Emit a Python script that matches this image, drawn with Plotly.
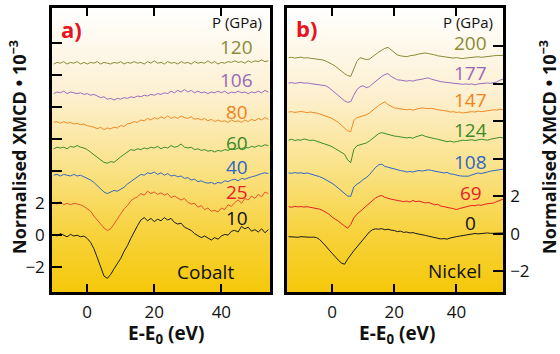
import plotly.graph_objects as go

# ---------------- data ----------------
energy_co = list(range(-10, 55))   # eV, Cobalt panel
energy_ni = list(range(-14, 56))   # eV, Nickel panel

co_10 = [0.05, -0.05, 0.1, 0.0, -0.1, 0.05, -0.05, 0.0, -0.1, -0.05,
         -0.2, -0.45, -0.85, -1.4, -2.0, -2.55, -2.7, -2.45, -2.1, -1.75,
         -1.45, -1.0, -0.65, -0.2, 0.25, 0.6, 0.95, 1.1, 0.9, 1.05,
         0.85, 1.0, 0.9, 1.1, 0.95, 1.05, 0.8, 0.7, 0.75, 0.5,
         0.4, 0.3, 0.1, 0.0, -0.15, -0.05, -0.2, -0.3, -0.15, -0.25,
         -0.05, 0.05, 0.0, 0.25, 0.3, 0.2, 0.55, 0.4, 0.5, 0.25,
         0.35, 0.2, 0.4, 0.15, 0.35]
co_25 = [2.05, 1.95, 2.1, 1.9, 2.0, 1.9, 2.0, 1.95, 1.9, 1.8,
         1.65, 1.5, 1.2, 0.95, 0.7, 0.45, 0.3, 0.4, 0.7, 1.0,
         1.35, 1.65, 1.85, 2.15, 2.3, 2.4, 2.6, 2.5, 2.75, 2.6,
         2.7, 2.55, 2.65, 2.5, 2.6, 2.35, 2.45, 2.3, 2.2, 2.3,
         2.05, 1.95, 2.0, 1.75, 1.85, 1.6, 1.7, 1.5, 1.55, 1.45,
         1.7, 1.6, 1.9, 1.8, 2.05, 2.2, 2.0, 2.3, 2.2, 2.45,
         2.3, 2.55, 2.4, 2.7, 2.6]
co_40 = [3.75, 3.8, 3.7, 3.8, 3.75, 3.7, 3.8, 3.7, 3.75, 3.65,
         3.6, 3.45, 3.3, 3.1, 2.9, 2.7, 2.6, 2.7, 2.8, 2.75,
         2.85, 3.0, 3.2, 3.35, 3.5, 3.65, 3.8, 3.75, 3.9, 3.85,
         3.95, 3.8, 3.9, 3.75, 3.85, 3.7, 3.75, 3.65, 3.7, 3.55,
         3.6, 3.45, 3.5, 3.35, 3.4, 3.3, 3.25, 3.3, 3.2, 3.3,
         3.25, 3.4, 3.35, 3.45, 3.5, 3.4, 3.55, 3.5, 3.6, 3.65,
         3.7, 3.8, 3.85, 3.9, 3.85]
co_60 = [5.4, 5.5, 5.45, 5.5, 5.4, 5.55, 5.5, 5.6, 5.5, 5.45,
         5.35, 5.2, 5.0, 4.85, 4.7, 4.55, 4.5, 4.6, 4.55, 4.75,
         4.9, 5.05, 5.2, 5.35, 5.3, 5.4, 5.35, 5.45, 5.4, 5.5,
         5.45, 5.55, 5.4, 5.5, 5.45, 5.6, 5.5, 5.55, 5.7, 5.5,
         5.45, 5.5, 5.35, 5.4, 5.3, 5.35, 5.25, 5.3, 5.2, 5.3,
         5.25, 5.35, 5.3, 5.4, 5.35, 5.45, 5.4, 5.5, 5.45, 5.55,
         5.5, 5.6, 5.55, 5.65, 5.6]
co_80 = [7.05, 7.1, 7.0, 7.1, 7.0, 7.05, 6.95, 7.0, 6.9, 6.95,
         6.85, 6.8, 6.75, 6.65, 6.75, 6.6, 6.7, 6.65, 6.75, 6.7,
         6.85, 6.8, 6.95, 7.0, 7.1, 7.05, 7.2, 7.15, 7.3, 7.2,
         7.35, 7.25, 7.4, 7.3, 7.45, 7.3, 7.4, 7.3, 7.45, 7.35,
         7.3, 7.4, 7.25, 7.3, 7.2, 7.3, 7.15, 7.25, 7.1, 7.2,
         7.1, 7.15, 7.05, 7.2, 7.1, 7.15, 7.05, 7.2, 7.1, 7.25,
         7.15, 7.3, 7.2, 7.35, 7.25]
co_106 = [8.85, 8.95, 8.9, 9.0, 8.85, 8.95, 8.9, 8.85, 8.9, 8.8,
          8.85, 8.75, 8.8, 8.7, 8.6, 8.65, 8.5, 8.55, 8.45, 8.55,
          8.5, 8.6, 8.55, 8.65, 8.6, 8.7, 8.65, 8.75, 8.7, 8.8,
          8.75, 8.85, 8.8, 8.9, 8.85, 9.0, 8.9, 9.05, 8.95, 9.1,
          8.95, 9.05, 8.9, 9.0, 8.9, 8.95, 8.85, 8.95, 8.9, 9.0,
          8.9, 9.0, 8.85, 8.95, 8.9, 9.0, 8.9, 8.95, 8.85, 8.95,
          8.9, 9.0, 8.9, 9.05, 8.95]
co_120 = [10.7, 10.8, 10.75, 10.85, 10.7, 10.8, 10.75, 10.85, 10.7, 10.8,
          10.7, 10.8, 10.75, 10.85, 10.7, 10.8, 10.75, 10.7, 10.8, 10.75,
          10.85, 10.7, 10.8, 10.75, 10.85, 10.75, 10.8, 10.7, 10.85, 10.75,
          10.9, 10.75, 10.8, 10.7, 10.85, 10.75, 10.8, 10.7, 10.85, 10.75,
          10.8, 10.7, 10.85, 10.75, 10.8, 10.75, 10.9, 10.75, 10.85, 10.7,
          10.8, 10.75, 10.85, 10.8, 10.9, 10.8, 10.85, 10.75, 10.9, 10.8,
          10.9, 10.85, 10.95, 10.85, 10.9]

ni_0 = [-0.15, -0.17, -0.16, -0.18, -0.15, -0.17, -0.16, -0.18, -0.17, -0.2,
        -0.3, -0.45, -0.65, -0.85, -1.05, -1.25, -1.4, -1.55, -1.62, -1.35,
        -1.1, -0.9, -0.7, -0.5, -0.35, -0.1, 0.1, 0.22, 0.27, 0.25,
        0.28, 0.22, 0.25, 0.2, 0.18, 0.12, 0.15, 0.08, 0.1, 0.05,
        0.07, 0.02, 0.0, -0.05, -0.08, -0.12, -0.15, -0.2, -0.22, -0.27,
        -0.25, -0.28, -0.22, -0.2, -0.15, -0.12, -0.1, -0.05, -0.02, 0.0,
        0.02, 0.0, 0.03, 0.02, 0.05, 0.03, 0.04, 0.06, 0.05, 0.05]
ni_69 = [1.45, 1.42, 1.47, 1.44, 1.46, 1.43, 1.45, 1.42, 1.4, 1.38,
         1.32, 1.25, 1.15, 1.05, 0.9, 0.8, 0.68, 0.55, 0.42, 0.3,
         0.5, 0.85, 1.05, 1.2, 1.35, 1.5, 1.65, 1.8, 1.92, 2.0,
         2.05, 1.95, 1.88, 1.85, 1.82, 1.78, 1.75, 1.72, 1.75, 1.7,
         1.78, 1.72, 1.75, 1.7, 1.65, 1.68, 1.6, 1.55, 1.58, 1.48,
         1.45, 1.4, 1.38, 1.35, 1.3, 1.35, 1.38, 1.42, 1.48, 1.52,
         1.5, 1.55, 1.52, 1.58, 1.6, 1.62, 1.65, 1.72, 1.8, 1.85]
ni_108 = [3.25, 3.23, 3.27, 3.24, 3.26, 3.22, 3.25, 3.2, 3.18, 3.12,
          3.05, 2.98, 2.9, 2.8, 2.7, 2.58, 2.45, 2.3, 2.15, 2.02,
          2.0, 2.5, 2.65, 2.75, 2.9, 3.0, 3.15, 3.35, 3.55, 3.68,
          3.72, 3.6, 3.55, 3.5, 3.48, 3.42, 3.38, 3.35, 3.3, 3.33,
          3.3, 3.35, 3.38, 3.35, 3.4, 3.42, 3.38, 3.35, 3.3, 3.28,
          3.25, 3.28, 3.2, 3.18, 3.12, 3.1, 3.08, 3.1, 3.08, 3.15,
          3.2, 3.25, 3.22, 3.28, 3.3, 3.35, 3.38, 3.4, 3.42, 3.45]
ni_124 = [5.0, 5.05, 4.98, 5.02, 5.0, 5.06, 5.02, 4.98, 5.0, 4.95,
          4.9, 4.85, 4.8, 4.72, 4.65, 4.55, 4.45, 4.35, 4.25, 3.95,
          3.8, 4.5, 4.7, 4.75, 4.8, 4.85, 4.95, 5.1, 5.25, 5.35,
          5.4, 5.35, 5.3, 5.25, 5.22, 5.2, 5.18, 5.15, 5.12, 5.15,
          5.1, 5.18, 5.22, 5.28, 5.2, 5.15, 5.12, 5.08, 5.05, 5.0,
          4.95, 4.92, 4.95, 4.9, 4.92, 4.95, 5.0, 4.98, 5.0, 5.02,
          4.98, 5.0, 5.05, 5.02, 5.0, 5.05, 5.08, 5.1, 5.15, 5.12]
ni_147 = [6.5, 6.52, 6.48, 6.5, 6.53, 6.5, 6.47, 6.5, 6.48, 6.45,
          6.4, 6.35, 6.3, 6.22, 6.15, 6.05, 5.95, 5.8, 5.65, 5.5,
          5.45, 6.05, 6.2, 6.25, 6.3, 6.35, 6.45, 6.6, 6.75, 6.85,
          6.95, 7.05, 6.9, 6.8, 6.72, 6.7, 6.68, 6.65, 6.62, 6.65,
          6.6, 6.65, 6.7, 6.72, 6.7, 6.68, 6.7, 6.65, 6.62, 6.6,
          6.58, 6.55, 6.5, 6.52, 6.48, 6.5, 6.45, 6.48, 6.5, 6.52,
          6.5, 6.55, 6.52, 6.55, 6.58, 6.6, 6.62, 6.6, 6.65, 6.62]
ni_177 = [8.05, 8.07, 8.03, 8.05, 8.08, 8.04, 8.05, 8.02, 8.0, 7.98,
          7.95, 7.95, 7.9, 7.8, 7.65, 7.5, 7.35, 7.2, 7.1, 7.02,
          7.05, 7.4, 7.7, 7.85, 7.9, 7.8, 7.85, 8.0, 8.15, 8.3,
          8.4, 8.5, 8.55, 8.4, 8.3, 8.22, 8.2, 8.18, 8.15, 8.18,
          8.15, 8.2, 8.22, 8.25, 8.3, 8.32, 8.25, 8.2, 8.15, 8.12,
          8.1, 8.08, 8.05, 8.02, 8.0, 8.02, 7.98, 8.0, 7.98, 8.0,
          7.95, 8.0, 8.02, 8.0, 8.05, 8.03, 8.05, 8.1, 8.2, 8.25]
ni_200 = [9.4, 9.42, 9.38, 9.4, 9.43, 9.38, 9.4, 9.37, 9.35, 9.32,
          9.3, 9.28, 9.22, 9.15, 9.05, 8.95, 8.8, 8.65, 8.55, 8.45,
          8.4, 8.8, 9.2, 9.4, 9.35, 9.3, 9.32, 9.45, 9.6, 9.7,
          9.8, 9.9, 9.95, 9.8, 9.65, 9.55, 9.5, 9.48, 9.45, 9.5,
          9.52, 9.55, 9.6, 9.62, 9.65, 9.62, 9.6, 9.55, 9.5, 9.48,
          9.45, 9.42, 9.4, 9.38, 9.4, 9.38, 9.35, 9.38, 9.4, 9.42,
          9.4, 9.45, 9.42, 9.45, 9.48, 9.5, 9.5, 9.52, 9.5, 9.52]

co_series = [co_10, co_25, co_40, co_60, co_80, co_106, co_120]
co_pressures = ["10", "25", "40", "60", "80", "106", "120"]
co_line_colors = ["#1a1a1a", "#e8542c", "#3a68c0", "#3d8c2c", "#f08a24", "#9a6cc0", "#8a8a38"]
co_label_colors = ["#111111", "#e8202a", "#2f66c2", "#3a8a28", "#f0821a", "#9868b8", "#8a8a38"]
co_label_y = [1.06, 2.69, 4.25, 5.75, 7.69, 9.69, 11.75]

ni_series = [ni_0, ni_69, ni_108, ni_124, ni_147, ni_177, ni_200]
ni_pressures = ["0", "69", "108", "124", "147", "177", "200"]
ni_line_colors = ["#1a1a1a", "#e82020", "#2f66c8", "#3d8c2c", "#f08a24", "#9a6cc0", "#8a8a38"]
ni_label_colors = ["#111111", "#e8202a", "#2f66c2", "#3a8a28", "#f0821a", "#9868b8", "#8a8a38"]
ni_label_y = [0.58, 2.17, 3.86, 5.55, 7.15, 8.6, 10.19]

tick_vals_y = [-2, 0, 2, 4, 6, 8, 10, 12]
tick_text_y = ["\u22122", "0", "2", " ", " ", " ", " ", " "]
tick_vals_ni = [-2, 0, 2, 4, 6, 8, 10]
tick_text_ni = ["\u22122", "0", "2", " ", " ", " ", " "]
tick_vals_x = [0, 20, 40]
tick_text_x = ["0", "20", "40"]

# ---------------- layout constants ----------------
W, H = 560, 354
CO_XR = [-10.5, 54.5]
CO_YR = [-3.55, 14.2]
NI_XR = [-14.5, 55.0]
NI_YR = [-3.1, 12.05]
FONT = "Open Sans"
bg_scale = [[0.0, "#f5c80a"], [0.2, "#f7d23a"], [0.45, "#fae38c"], [0.7, "#fdf0d2"], [1.0, "#ffffff"]]

fig = go.Figure()


def background(xr, yr, xa, ya):
    fig.add_trace(go.Scatter(
        x=[xr[0], xr[1], xr[1], xr[0], xr[0]],
        y=[yr[0], yr[0], yr[1], yr[1], yr[0]],
        mode="lines", fill="toself", line=dict(width=0),
        fillgradient=dict(type="vertical", colorscale=bg_scale, start=yr[0], stop=yr[1]),
        hoverinfo="skip", showlegend=False, xaxis=xa, yaxis=ya))


background(CO_XR, CO_YR, "x", "y")
background(NI_XR, NI_YR, "x2", "y2")

for ys, c in zip(co_series, co_line_colors):
    fig.add_trace(go.Scatter(x=energy_co, y=ys, mode="lines", line=dict(color=c, width=1),
                             showlegend=False, xaxis="x", yaxis="y"))
for ys, c in zip(ni_series, ni_line_colors):
    fig.add_trace(go.Scatter(x=energy_ni, y=ys, mode="lines", line=dict(color=c, width=1),
                             showlegend=False, xaxis="x2", yaxis="y2"))

ann = []
for p, c, yv in zip(co_pressures, co_label_colors, co_label_y):
    ann.append(dict(x=44.6, y=yv, xref="x", yref="y", text=p, showarrow=False,
                    font=dict(family=FONT, size=19, color=c), xanchor="center", yanchor="middle"))
for p, c, yv in zip(ni_pressures, ni_label_colors, ni_label_y):
    ann.append(dict(x=44.7, y=yv, xref="x2", yref="y2", text=p, showarrow=False,
                    font=dict(family=FONT, size=19, color=c), xanchor="center", yanchor="middle"))

ann += [
    dict(x=44.6, y=13.3, xref="x", yref="y", text="P (GPa)", showarrow=False,
         font=dict(family=FONT, size=15, color="#111"), xanchor="center", yanchor="middle"),
    dict(x=43.7, y=11.32, xref="x2", yref="y2", text="P (GPa)", showarrow=False,
         font=dict(family=FONT, size=15, color="#111"), xanchor="center", yanchor="middle"),
    dict(x=35.3, y=-2.3, xref="x", yref="y", text="Cobalt", showarrow=False,
         font=dict(family=FONT, size=19, color="#111"), xanchor="center", yanchor="middle"),
    dict(x=39.4, y=-2.0, xref="x2", yref="y2", text="Nickel", showarrow=False,
         font=dict(family=FONT, size=19, color="#111"), xanchor="center", yanchor="middle"),
    dict(x=-4.6, y=12.9, xref="x", yref="y", text="<b>a)</b>", showarrow=False,
         font=dict(family=FONT, size=22, color="#e5141e"), xanchor="center", yanchor="middle"),
    dict(x=-8.1, y=11.0, xref="x2", yref="y2", text="<b>b)</b>", showarrow=False,
         font=dict(family=FONT, size=22, color="#e5141e"), xanchor="center", yanchor="middle"),
    dict(x=166 / W, y=1 - 334 / H, xref="paper", yref="paper", text="<b>E-E<sub>0</sub> (eV)</b>",
         showarrow=False, font=dict(family=FONT, size=19, color="#111"), xanchor="center", yanchor="middle"),
    dict(x=397 / W, y=1 - 334 / H, xref="paper", yref="paper", text="<b>E-E<sub>0</sub> (eV)</b>",
         showarrow=False, font=dict(family=FONT, size=19, color="#111"), xanchor="center", yanchor="middle"),
    dict(x=18 / W, y=1 - 147 / H, xref="paper", yref="paper", text="<b>Normalised XMCD \u2022 10<sup>\u22123</sup></b>",
         textangle=-90, showarrow=False, font=dict(family=FONT, size=18, color="#111"),
         xanchor="center", yanchor="middle"),
    dict(x=548 / W, y=1 - 147 / H, xref="paper", yref="paper", text="<b>Normalised XMCD \u2022 10<sup>\u22123</sup></b>",
         textangle=-90, showarrow=False, font=dict(family=FONT, size=18, color="#111"),
         xanchor="center", yanchor="middle"),
]

axis_common = dict(showline=True, linecolor="black", linewidth=2.5, showgrid=False, zeroline=False,
                   ticks="inside", tickcolor="black", tickwidth=1.5,
                   tickfont=dict(family=FONT, size=17, color="#111"))

fig.update_layout(
    width=W, height=H, margin=dict(l=0, r=0, t=0, b=0),
    paper_bgcolor="white", plot_bgcolor="white", showlegend=False,
    annotations=ann,
    xaxis=dict(domain=[52 / W, 270 / W], range=CO_XR, anchor="y", mirror="ticks", ticklen=8,
               tickvals=tick_vals_x, ticktext=tick_text_x, ticklabelstandoff=3, **axis_common),
    yaxis=dict(domain=[1 - 292 / H, 1 - 8 / H], range=CO_YR, anchor="x", mirror=True, ticklen=10,
               side="left", tickvals=tick_vals_y, ticktext=tick_text_y, ticklabelstandoff=1, **axis_common),
    xaxis2=dict(domain=[287 / W, 503 / W], range=NI_XR, anchor="y2", mirror="ticks", ticklen=8,
                tickvals=tick_vals_x, ticktext=tick_text_x, ticklabelstandoff=3, **axis_common),
    yaxis2=dict(domain=[1 - 292 / H, 1 - 8 / H], range=NI_YR, anchor="x2", mirror=True, ticklen=10,
                side="right", tickvals=tick_vals_ni, ticktext=tick_text_ni, ticklabelstandoff=1, **axis_common),
)

fig.write_html("out.html")
